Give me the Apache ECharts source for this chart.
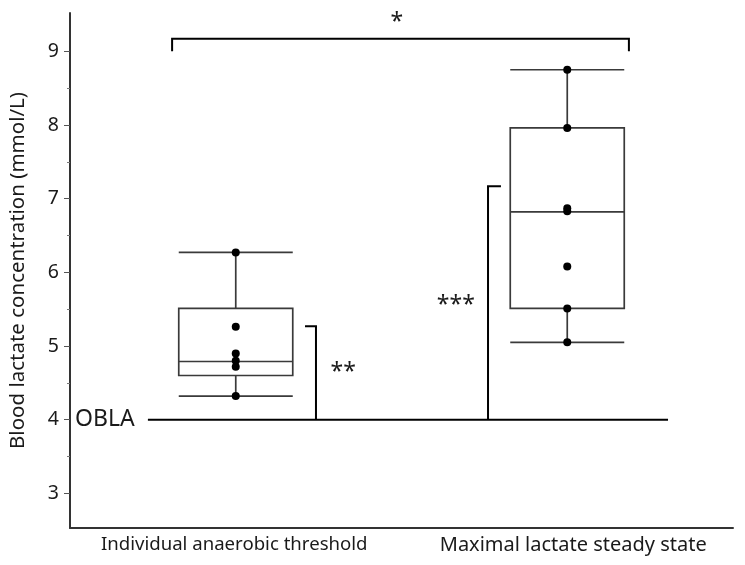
<!DOCTYPE html>
<html>
<head>
<meta charset="utf-8">
<script src="https://cdn.jsdelivr.net/npm/echarts@6/dist/echarts.min.js"></script>
<style>
html,body{margin:0;padding:0;background:#fff;}
#chart{width:745px;height:565px;}
</style>
</head>
<body>
<div id="chart"></div>
<script>
// ---- data ----
const categories = ['Individual anaerobic threshold', 'Maximal lactate steady state'];
// [min, Q1, median, Q3, max]
const boxIAT = [4.32, 4.60, 4.79, 5.51, 6.27];
const boxMLSS = [5.05, 5.51, 6.82, 7.96, 8.75];
const pointsIAT = [6.27, 5.26, 4.90, 4.80, 4.72, 4.32];
const pointsMLSS = [8.75, 7.96, 6.87, 6.83, 6.08, 5.51, 5.05];
const yTickLabels = [3, 4, 5, 6, 7, 8, 9];
const yMinorTicks = [3.5, 4.5, 5.5, 6.5, 7.5, 8.5];
const oblaValue = 4;
const sigIATTop = 5.27;     // ** bracket top
const sigMLSSTop = 7.17;    // *** bracket top
const sigBetweenTop = 9.17; // * bracket line
const sigBetweenEnd = 9.0;  // * bracket ends
const sigLabels = ['**', '***', '*'];

// ---- layout (positions on a hidden helper x axis, category i centered at i) ----
const L = {
  oblaX: [-0.265, 1.304], oblaTextX: -0.485,
  iatBracketX: 0.242, iatBracketLip: 0.209, iatTextX: 0.324, iatTextY: 4.64,
  mlssBracketX: 0.761, mlssBracketLip: 0.800, mlssTextX: 0.664, mlssTextY: 5.55,
  topX: [-0.192, 1.186], topTextX: 0.486, topTextY: 9.39
};

const FONT = '"Noto Sans", "Open Sans", sans-serif';
const chart = echarts.init(document.getElementById('chart'));

function scatterData(idx, arr){ return arr.map(v => [idx, v]); }

const option = {
  animation: false,
  backgroundColor: '#fff',
  grid: { left: 70, right: 12, top: 13, bottom: 37, containLabel: false, outerBoundsMode: 'none' },
  xAxis: [
    {
      type: 'category', data: categories, boundaryGap: true,
      axisLine: { onZero: false, lineStyle: { color: '#333', width: 2 } },
      axisTick: { show: false },
      axisLabel: {
        color: '#1a1a1a', fontSize: 18.6, fontFamily: FONT, margin: 7, interval: 0, hideOverlap: false,
        formatter: function (v, i) { return i === 0 ? '{a|' + v + '}' : '{b|' + v + '}'; },
        rich: {
          a: { color: '#1a1a1a', fontSize: 18.6, fontFamily: FONT, padding: [0, 3, 0, 0] },
          b: { color: '#1a1a1a', fontSize: 20, fontFamily: FONT, padding: [0, 0, 0, 12] }
        }
      },
      splitLine: { show: false }
    },
    { type: 'value', min: -0.5, max: 1.5, show: false }
  ],
  yAxis: [
    {
      type: 'value', min: 2.53, max: 9.52, position: 'left',
      name: 'Blood lactate concentration (mmol/L)',
      nameLocation: 'middle', nameGap: 41,
      nameTextStyle: { color: '#1a1a1a', fontSize: 20.5, fontFamily: FONT },
      axisLine: { show: true, onZero: false, lineStyle: { color: '#333', width: 2 } },
      axisTick: { show: true, length: 6, lineStyle: { color: '#555', width: 1 }, customValues: yTickLabels },
      axisLabel: { color: '#1a1a1a', fontSize: 19.5, fontFamily: FONT, margin: 11, customValues: yTickLabels },
      splitLine: { show: false }
    },
    {
      type: 'value', min: 2.53, max: 9.52, position: 'left', offset: 0,
      axisLine: { show: false, onZero: false },
      axisTick: { show: true, length: 3, lineStyle: { color: '#777', width: 1 }, customValues: yMinorTicks },
      axisLabel: { show: false },
      splitLine: { show: false }
    }
  ],
  series: [
    {
      type: 'boxplot', xAxisIndex: 0, yAxisIndex: 0, silent: true,
      boxWidth: [114, 114],
      itemStyle: { color: '#fff', borderColor: '#3a3a3a', borderWidth: 1.7 },
      data: [boxIAT, boxMLSS]
    },
    {
      type: 'scatter', xAxisIndex: 0, yAxisIndex: 0, silent: true,
      symbolSize: 8, itemStyle: { color: '#000', opacity: 1 },
      data: scatterData(0, pointsIAT).concat(scatterData(1, pointsMLSS))
    },
    {
      type: 'custom', xAxisIndex: 1, yAxisIndex: 0, silent: true,
      data: [[0, 0]],
      renderItem: function (params, api) {
        const c = (x, y) => api.coord([x, y]);
        const ls = { stroke: '#000', lineWidth: 2, fill: null };
        const poly = pts => ({ type: 'polyline', shape: { points: pts }, style: ls });
        const txt = (x, y, s, size, align) => {
          const p = c(x, y);
          return { type: 'text', x: p[0], y: p[1], style: { text: s, fill: '#1a1a1a', font: size + 'px ' + FONT, align: align || 'center', verticalAlign: 'middle' } };
        };
        return {
          type: 'group',
          children: [
            poly([c(L.oblaX[0], oblaValue), c(L.oblaX[1], oblaValue)]),
            txt(L.oblaTextX, oblaValue, 'OBLA', 23, 'left'),
            poly([c(L.iatBracketLip, sigIATTop), c(L.iatBracketX, sigIATTop), c(L.iatBracketX, oblaValue)]),
            txt(L.iatTextX, L.iatTextY, sigLabels[0], 23),
            poly([c(L.mlssBracketLip, sigMLSSTop), c(L.mlssBracketX, sigMLSSTop), c(L.mlssBracketX, oblaValue)]),
            txt(L.mlssTextX, L.mlssTextY, sigLabels[1], 23),
            poly([c(L.topX[0], sigBetweenEnd), c(L.topX[0], sigBetweenTop), c(L.topX[1], sigBetweenTop), c(L.topX[1], sigBetweenEnd)]),
            txt(L.topTextX, L.topTextY, sigLabels[2], 23)
          ]
        };
      }
    }
  ]
};
chart.setOption(option);
</script>
</body>
</html>
